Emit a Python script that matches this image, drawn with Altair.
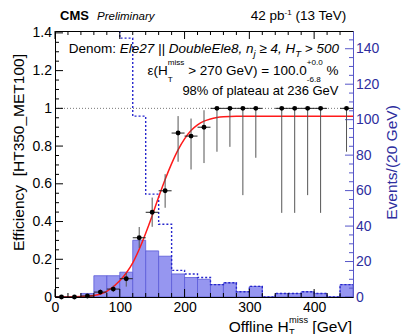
import altair as alt
import pandas as pd

FONT = "Liberation Sans"
BLUE_T = "#2e2e9e"
BLUE_L = "#5656c8"

# ---------------- data ----------------
bin_lo = [0, 20, 40, 60, 80, 100, 120, 140, 160, 180, 200, 220, 240, 260, 280, 300, 320, 340, 360, 380, 400, 420, 440]
bin_hi = [20, 40, 60, 80, 100, 120, 140, 160, 180, 200, 220, 240, 260, 280, 300, 320, 340, 360, 380, 400, 420, 440, 460]
num_counts = [0, 0, 2, 12, 12, 14, 32, 26, 23, 13, 11, 10, 7, 8, 3, 6, 0, 2, 2, 3, 2, 0, 7]
den_counts = [400, 400, 400, 400, 400, 146, 102, 58, 41, 15, 13, 11, 7, 8, 3, 6, 0, 2, 2, 3, 2, 0, 7]

pt_x = [10, 30, 50, 70, 90, 110, 130, 150, 170, 190, 210, 230, 250, 270, 290, 310, 350, 370, 390, 410, 450]
pt_xlo = [0, 20, 40, 60, 80, 100, 120, 140, 160, 180, 200, 220, 240, 260, 280, 300, 340, 360, 380, 400, 440]
pt_xhi = [20, 40, 60, 80, 100, 120, 140, 160, 180, 200, 220, 240, 260, 280, 300, 320, 360, 380, 400, 420, 460]
pt_eff = [0.0, 0.0, 0.005, 0.026, 0.042, 0.097, 0.314, 0.449, 0.563, 0.869, 0.853, 0.900,
          1.0, 1.0, 1.0, 1.0, 1.0, 1.0, 1.0, 1.0, 1.0]
pt_lo = [0.0, 0.0, 0.001, 0.015, 0.028, 0.055, 0.26, 0.372, 0.473, 0.717, 0.676, 0.710,
         0.770, 0.796, 0.540, 0.738, 0.446, 0.446, 0.540, 0.446, 0.770]
pt_hi = [0.004, 0.004, 0.012, 0.040, 0.060, 0.127, 0.371, 0.527, 0.651, 0.959, 0.946, 0.990,
         1.0, 1.0, 1.0, 1.0, 1.0, 1.0, 1.0, 1.0, 1.0]

fit_x = [0, 20, 40, 60, 80, 100, 110, 120, 130, 140, 150, 160, 170, 180, 190, 200, 210, 220,
         230, 240, 250, 260, 280, 300, 460]
fit_eff = [0.0, 0.0003, 0.002, 0.008, 0.03, 0.086, 0.127, 0.181, 0.253, 0.338, 0.431, 0.530,
           0.623, 0.707, 0.780, 0.838, 0.882, 0.912, 0.932, 0.944, 0.951, 0.955, 0.958, 0.958, 0.958]

x_major = [0, 100, 200, 300, 400]
x_minor = [20, 40, 60, 80, 120, 140, 160, 180, 220, 240, 260, 280, 320, 340, 360, 380, 420, 440]
eff_major = [0, 0.2, 0.4, 0.6, 0.8, 1.0, 1.2, 1.4]
eff_minor = [0.05, 0.1, 0.15, 0.25, 0.3, 0.35, 0.45, 0.5, 0.55, 0.65, 0.7, 0.75, 0.85, 0.9, 0.95,
             1.05, 1.1, 1.15, 1.25, 1.3, 1.35]
cnt_major = [0, 20, 40, 60, 80, 100, 120, 140]
cnt_minor = [5, 10, 15, 25, 30, 35, 45, 50, 55, 65, 70, 75, 85, 90, 95, 105, 110, 115, 125, 130, 135, 145]

# ---------------- geometry ----------------
W, H = 298, 266
PAD_L, PAD_T = 55, 31

hist_df = pd.DataFrame({"lo": bin_lo, "hi": bin_hi, "num": num_counts,
                        "base": [0] * len(bin_lo)})
den_df = pd.DataFrame({"edge": bin_lo + [bin_hi[-1]], "den": den_counts + [den_counts[-1]]})
pts_df = pd.DataFrame({"x": pt_x, "xlo": pt_xlo, "xhi": pt_xhi, "eff": pt_eff, "lo": pt_lo, "hi": pt_hi})
fit_df = pd.DataFrame({"x": fit_x, "eff": fit_eff})
dummy = pd.DataFrame({"d": [0]})

xscale = alt.Scale(domain=[0, 460], nice=False, zero=False)
xaxis = alt.Axis(values=x_major, labelFontSize=14, labelPadding=3, ticks=False, tickSize=0,
                 domainColor="black", labelColor="black", grid=False, labelFlush=False,
                 zindex=1, labelFont=FONT, labelOverlap=False)
escale = alt.Scale(domain=[0, 1.41], nice=False, zero=False)
eaxis = alt.Axis(orient="left", values=eff_major, format=".1~f", labelFontSize=14, labelPadding=3.5,
                 ticks=False, tickSize=0, domainColor="black", labelColor="black", grid=False,
                 zindex=1, labelFont=FONT, labelOverlap=False)
cscale = alt.Scale(domain=[0, 150], nice=False, zero=False)
caxis = alt.Axis(orient="right", values=cnt_major, labelFontSize=14, labelPadding=2.5,
                 ticks=False, tickSize=0, domainColor=BLUE_L, labelColor=BLUE_T, grid=False,
                 zindex=1, labelFont=FONT, labelOverlap=False)


def X(f):
    return alt.X(f"{f}:Q", scale=xscale, axis=xaxis, title=None)


def YE(f):
    return alt.Y(f"{f}:Q", scale=escale, axis=eaxis, title=None)


def YC(f):
    return alt.Y(f"{f}:Q", scale=cscale, axis=caxis, title=None)


# ---------------- text helpers ----------------
HW = {' ': 278, '%': 889, '(': 333, ')': 333, '+': 584, ',': 278, '-': 333, '.': 278, '/': 278,
      ':': 278, '=': 584, '>': 584, '[': 278, ']': 278, '_': 556, '|': 260, '\u2265': 549,
      '\u03b5': 440, 'C': 722, 'D': 722, 'E': 667, 'G': 778, 'H': 722, 'M': 833, 'O': 778,
      'P': 667, 'S': 667, 'T': 611, 'V': 667, 'a': 556, 'b': 556, 'c': 500, 'd': 556, 'e': 556,
      'f': 278, 'g': 556, 'h': 556, 'i': 222, 'j': 222, 'k': 500, 'l': 222, 'm': 833, 'n': 556,
      'o': 556, 'p': 556, 'r': 333, 's': 500, 't': 278, 'u': 556, 'v': 500, 'y': 500}


def tw(s, size):
    return sum(HW.get(c, 556) for c in s) * size / 1000.0


def txt(s, x, y, size, style="normal", weight="normal", color="black", align="left",
        baseline="alphabetic", angle=0):
    lead = len(s) - len(s.lstrip(" "))
    if lead and align == "left":
        x += tw(" " * lead, size)
    s = s.strip(" ")
    kw = dict(text=s, fontSize=size, fontStyle=style, fontWeight=weight, color=color,
              align=align, baseline=baseline, font=FONT)
    if angle:
        kw["angle"] = angle
    return alt.Chart(dummy).mark_text(**kw).encode(x=alt.value(x - PAD_L), y=alt.value(y - PAD_T))


def rich(parts, right, base, size, color="black"):
    ws = []
    for p in parts:
        if p[0] == "t":
            ws.append(tw(p[1], size * p[4]))
        else:
            ws.append(max(tw(p[1], size * p[6]), tw(p[2], size * p[6])))
    x = right - sum(ws)
    out = []
    for p, w in zip(parts, ws):
        if p[0] == "t":
            out.append(txt(p[1], x, base + p[3], size * p[4], p[2], color=color))
        else:
            out.append(txt(p[1], x, base + p[4], size * p[6], p[3], color=color))
            out.append(txt(p[2], x, base + p[5], size * p[6], p[3], color=color))
        x += w
    return out


texts = []
texts.append(txt("CMS", 60, 20, 13, weight="bold"))
texts.append(txt("Preliminary", 97, 20, 11.5, style="italic"))
texts += rich([("t", "42 pb", "normal", 0, 1), ("t", "-1", "normal", -5, 0.6),
               ("t", " (13 TeV)", "normal", 0, 1)], 348, 20, 13.5)
texts += rich([("t", "Denom: ", "normal", 0, 1), ("t", "Ele27 || DoubleEle8, n", "italic", 0, 1),
               ("t", "j", "italic", 4, 0.7), ("t", " \u2265 4, H", "italic", 0, 1),
               ("t", "T", "italic", 4, 0.7), ("t", " > 500", "italic", 0, 1)], 339, 52.5, 13.5)
texts += rich([("t", "\u03b5(H", "normal", 0, 1), ("ss", "miss", "T", "normal", -10, 7, 0.6),
               ("t", " > 270 GeV) = 100.0", "normal", 0, 1),
               ("ss", "+0.0", "-6.8", "normal", -10, 7, 0.6), ("t", " %", "normal", 0, 1)],
              338.5, 75, 13.5)
texts.append(txt("98% of plateau at 236 GeV", 338.5, 95, 13, align="right"))
texts += rich([("t", "Offline H", "normal", 0, 1), ("ss", "miss", "T", "normal", -9, 3, 0.6),
               ("t", " [GeV]", "normal", 0, 1)], 352, 331.5, 15.5)
texts.append(txt("Efficiency\u00a0 [HT350_MET100]", 18.5, 152.5, 15.5, align="center",
                 baseline="middle", angle=270))
texts.append(txt("Events/(20 GeV)", 392, 162.5, 15.5, color=BLUE_T, align="center",
                 baseline="middle", angle=270))

# ---------------- count layer (right axis) ----------------
bars = alt.Chart(hist_df).mark_rect(fill="#9696f0", stroke="#5a5ad8", strokeWidth=0.8).encode(
    x=X("lo"), x2="hi", y=YC("num"), y2="base")
den_line = alt.Chart(den_df).mark_line(interpolate="step-after", color="#2626cc", strokeWidth=1.4,
                                       strokeDash=[2, 2], clip=True).encode(x=X("edge"), y=YC("den"))
rt_major = alt.Chart(pd.DataFrame({"v": cnt_major})).mark_rule(color=BLUE_L).encode(
    y=YC("v"), x=alt.value(W), x2=alt.value(W - 8))
rt_minor = alt.Chart(pd.DataFrame({"v": cnt_minor})).mark_rule(color=BLUE_L).encode(
    y=YC("v"), x=alt.value(W), x2=alt.value(W - 4))
count_layer = alt.layer(bars, den_line, rt_major, rt_minor)

# ---------------- efficiency layer (left axis) ----------------
dotted = alt.Chart(pd.DataFrame({"v": [1.0]})).mark_rule(color="#777777", strokeDash=[1, 2]).encode(
    y=YE("v"), x=alt.value(0), x2=alt.value(W))
xerr = alt.Chart(pts_df).mark_rule(color="#222222", strokeWidth=1).encode(
    x=X("xlo"), x2="xhi", y=YE("eff"))
yerr = alt.Chart(pts_df).mark_rule(color="#555555", strokeWidth=1).encode(
    x=X("x"), y=YE("lo"), y2="hi")
fit = alt.Chart(fit_df).mark_line(color="#ff1a1a", strokeWidth=1.5, interpolate="monotone").encode(
    x=X("x"), y=YE("eff"))
points = alt.Chart(pts_df).mark_circle(color="black", size=24, opacity=1).encode(
    x=X("x"), y=YE("eff"))
lt_major = alt.Chart(pd.DataFrame({"v": eff_major})).mark_rule(color="black").encode(
    y=YE("v"), x=alt.value(0), x2=alt.value(8))
lt_minor = alt.Chart(pd.DataFrame({"v": eff_minor})).mark_rule(color="black").encode(
    y=YE("v"), x=alt.value(0), x2=alt.value(4))
bt_major = alt.Chart(pd.DataFrame({"v": x_major})).mark_rule(color="black").encode(
    x=X("v"), y=alt.value(H), y2=alt.value(H - 8))
bt_minor = alt.Chart(pd.DataFrame({"v": x_minor})).mark_rule(color="black").encode(
    x=X("v"), y=alt.value(H), y2=alt.value(H - 4))
tt_major = alt.Chart(pd.DataFrame({"v": x_major})).mark_rule(color="black").encode(
    x=X("v"), y=alt.value(0), y2=alt.value(8))
tt_minor = alt.Chart(pd.DataFrame({"v": x_minor})).mark_rule(color="black").encode(
    x=X("v"), y=alt.value(0), y2=alt.value(4))

eff_layer = alt.layer(dotted, fit, xerr, yerr, points, lt_major, lt_minor, bt_major, bt_minor,
                      tt_major, tt_minor, *texts)

chart = alt.layer(count_layer, eff_layer).resolve_scale(y="independent").properties(
    width=W, height=H, autosize="none",
    padding={"left": PAD_L, "top": PAD_T, "right": 404 - PAD_L - W, "bottom": 334 - PAD_T - H},
).configure(font=FONT, background="white").configure_view(stroke="black", strokeWidth=1)

chart.save("out.html", embed_options={"renderer": "svg", "actions": False})
